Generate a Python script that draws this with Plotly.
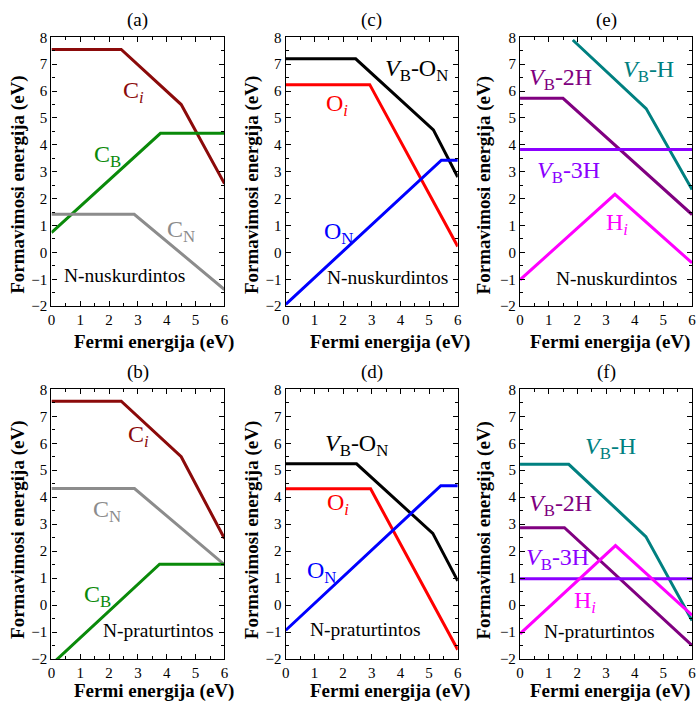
import plotly.graph_objects as go

# ---------------- data ----------------
fermi_label = "Fermi energija (eV)"
form_label = "Formavimosi energija (eV)"
panel_titles = ["(a)", "(b)", "(c)", "(d)", "(e)", "(f)"]
regime = ["N-nuskurdintos", "N-praturtintos", "N-nuskurdintos",
          "N-praturtintos", "N-nuskurdintos", "N-praturtintos"]

# (a)
a_Ci_x = [0, 2.42, 4.5, 6];  a_Ci_y = [7.55, 7.55, 5.5, 2.56]
a_CB_x = [0, 3.78, 6];       a_CB_y = [0.74, 4.43, 4.43]
a_CN_x = [0, 2.87, 6];       a_CN_y = [1.42, 1.42, -1.38]
# (b)
b_Ci_x = [0, 2.42, 4.5, 6];  b_Ci_y = [7.56, 7.56, 5.5, 2.47]
b_CN_x = [0, 2.88, 6];       b_CN_y = [4.32, 4.32, 1.5]
b_CB_x = [0, 3.75, 6];       b_CB_y = [-2.2, 1.52, 1.52]
# (c)
c_VBON_x = [0, 2.44, 5.15, 6]; c_VBON_y = [7.2, 7.2, 4.56, 2.8]
c_Oi_x = [0, 2.93, 6];         c_Oi_y = [6.24, 6.24, 0.22]
c_ON_x = [0, 5.43, 6];         c_ON_y = [-1.93, 3.43, 3.43]
# (d)
d_VBON_x = [0, 2.47, 5.13, 6]; d_VBON_y = [5.24, 5.24, 2.66, 0.9]
d_Oi_x = [0, 2.96, 6];         d_Oi_y = [4.31, 4.31, -1.65]
d_ON_x = [0, 5.41, 6];         d_ON_y = [-0.93, 4.43, 4.43]
# (e)
e_VBH_x = [1.84, 4.4, 6];      e_VBH_y = [7.9, 5.35, 2.34]
e_VB2H_x = [0, 1.5, 6];        e_VB2H_y = [5.73, 5.73, 1.41]
e_VB3H_x = [0, 6];             e_VB3H_y = [3.83, 3.83]
e_Hi_x = [0, 3.31, 6];         e_Hi_y = [-1.02, 2.16, -0.39]
# (f)
f_VBH_x = [0, 1.7, 4.39, 6];   f_VBH_y = [5.22, 5.22, 2.54, -0.57]
f_VB2H_x = [0, 1.55, 6];       f_VB2H_y = [2.87, 2.87, -1.49]
f_VB3H_x = [0, 6];             f_VB3H_y = [0.98, 0.98]
f_Hi_x = [0, 3.33, 6];         f_Hi_y = [-1.06, 2.21, -0.37]

# ---------------- styles ----------------
C_CI = "#8B0A0A"; C_CB = "#0A8A0A"; C_CN = "#8C8C8C"
C_OI = "#FF0000"; C_ON = "#0000FF"; C_VBON = "#000000"
C_VBH = "#008080"; C_VB2H = "#800080"; C_VB3H = "#8B00FF"; C_HI = "#FF00FF"

FONT = "Liberation Serif"
W, H = 699, 717

col_px = [(48, 223), (285, 459), (522, 696)]
row_px = [(30, 305), (390, 666)]
panels = [(i, c, r) for i, (c, r) in enumerate([(0, 0), (0, 1), (1, 0), (1, 1), (2, 0), (2, 1)])]

fig = go.Figure()

series = [
    [(a_Ci_x, a_Ci_y, C_CI), (a_CB_x, a_CB_y, C_CB), (a_CN_x, a_CN_y, C_CN)],
    [(b_Ci_x, b_Ci_y, C_CI), (b_CN_x, b_CN_y, C_CN), (b_CB_x, b_CB_y, C_CB)],
    [(c_VBON_x, c_VBON_y, C_VBON), (c_Oi_x, c_Oi_y, C_OI), (c_ON_x, c_ON_y, C_ON)],
    [(d_VBON_x, d_VBON_y, C_VBON), (d_Oi_x, d_Oi_y, C_OI), (d_ON_x, d_ON_y, C_ON)],
    [(e_VBH_x, e_VBH_y, C_VBH), (e_VB2H_x, e_VB2H_y, C_VB2H),
     (e_VB3H_x, e_VB3H_y, C_VB3H), (e_Hi_x, e_Hi_y, C_HI)],
    [(f_VBH_x, f_VBH_y, C_VBH), (f_VB2H_x, f_VB2H_y, C_VB2H),
     (f_VB3H_x, f_VB3H_y, C_VB3H), (f_Hi_x, f_Hi_y, C_HI)],
]

VBON = "<i>V</i><sub>B</sub>-O<sub>N</sub>"
labels = [
    [("C<sub><i>i</i></sub>", 2.85, 5.98, C_CI), ("C<sub>B</sub>", 1.93, 3.59, C_CB),
     ("C<sub>N</sub>", 4.5, 0.8, C_CN)],
    [("C<sub><i>i</i></sub>", 3.03, 6.27, C_CI), ("C<sub>N</sub>", 1.91, 3.5, C_CN),
     ("C<sub>B</sub>", 1.6, 0.34, C_CB)],
    [(VBON, 4.57, 6.8, C_VBON), ("O<sub><i>i</i></sub>", 1.78, 5.47, C_OI),
     ("O<sub>N</sub>", 1.84, 0.74, C_ON)],
    [(VBON, 2.47, 5.92, C_VBON), ("O<sub><i>i</i></sub>", 1.83, 3.75, C_OI),
     ("O<sub>N</sub>", 1.24, 1.24, C_ON)],
    [("<i>V</i><sub>B</sub>-H", 4.49, 6.76, C_VBH), ("<i>V</i><sub>B</sub>-2H", 1.4, 6.46, C_VB2H),
     ("<i>V</i><sub>B</sub>-3H", 1.69, 3.0, C_VB3H), ("H<sub><i>i</i></sub>", 3.4, 1.07, C_HI)],
    [("<i>V</i><sub>B</sub>-H", 3.15, 5.83, C_VBH), ("<i>V</i><sub>B</sub>-2H", 1.4, 3.73, C_VB2H),
     ("<i>V</i><sub>B</sub>-3H", 1.32, 1.72, C_VB3H), ("H<sub><i>i</i></sub>", 2.27, 0.1, C_HI)],
]
regime_pos = [(2.53, -0.86), (3.69, -0.94), (3.56, -0.93),
              (2.78, -0.9), (3.35, -0.97), (2.75, -0.98)]
xtitle_cx = [152, 390, 613]
ytitle_cx = [14, 251, 486]
ytitle_cy = [181, 534]
xtitle_cy = [342, 699]
title_cy = [12, 372]

annotations = []
layout_axes = {}
for i, c, r in panels:
    n = i + 1
    xs = "x" if n == 1 else f"x{n}"
    ys = "y" if n == 1 else f"y{n}"
    xk = "xaxis" if n == 1 else f"xaxis{n}"
    yk = "yaxis" if n == 1 else f"yaxis{n}"
    x0, x1 = col_px[c]
    y0, y1 = row_px[r]
    common = dict(showline=True, linecolor="black", linewidth=1.3, mirror="allticks",
                  ticks="inside", ticklen=5, tickwidth=1, tickcolor="black",
                  showgrid=False, zeroline=False,
                  tickfont=dict(family=FONT, size=15, color="black"))
    layout_axes[xk] = dict(common, domain=[x0 / W, x1 / W], range=[0, 6], dtick=1,
                           tick0=0, anchor=ys,
                           minor=dict(ticks="inside", dtick=0.5, ticklen=3,
                                      tickcolor="black", showgrid=False))
    layout_axes[yk] = dict(common, domain=[1 - y1 / H, 1 - y0 / H], range=[-2, 8],
                           dtick=1, tick0=0, anchor=xs,
                           minor=dict(ticks="inside", dtick=0.5, ticklen=3,
                                      tickcolor="black", showgrid=False))
    for sx, sy, col in series[i]:
        fig.add_trace(go.Scatter(x=sx, y=sy, mode="lines", xaxis=xs, yaxis=ys,
                                 line=dict(color=col, width=3), showlegend=False,
                                 hoverinfo="skip"))
    for txt, lx, ly, col in labels[i]:
        annotations.append(dict(text=txt, x=lx, y=ly, xref=xs, yref=ys, showarrow=False,
                                xanchor="center", yanchor="middle",
                                font=dict(family=FONT, size=24, color=col)))
    annotations.append(dict(text=regime[i], x=regime_pos[i][0], y=regime_pos[i][1],
                            xref=xs, yref=ys, showarrow=False,
                            xanchor="center", yanchor="middle",
                            font=dict(family=FONT, size=19.5, color="black")))
    annotations.append(dict(text=panel_titles[i], x=(x0 + x1) / 2 / W, y=1 - title_cy[r] / H,
                            xref="paper", yref="paper", showarrow=False,
                            xanchor="center", yanchor="middle",
                            font=dict(family=FONT, size=19, color="black")))
    annotations.append(dict(text="<b>" + fermi_label + "</b>", x=xtitle_cx[c] / W,
                            y=1 - xtitle_cy[r] / H, xref="paper", yref="paper",
                            showarrow=False, xanchor="center", yanchor="middle",
                            font=dict(family=FONT, size=19, color="black")))
    annotations.append(dict(text="<b>" + form_label + "</b>", x=ytitle_cx[c] / W,
                            y=1 - ytitle_cy[r] / H, xref="paper", yref="paper",
                            showarrow=False, textangle=-90, xanchor="center", yanchor="middle",
                            font=dict(family=FONT, size=19, color="black")))

fig.update_layout(width=W, height=H, margin=dict(l=0, r=0, t=0, b=0),
                  paper_bgcolor="white", plot_bgcolor="white",
                  annotations=annotations, **layout_axes)

fig.write_html("out.html")
